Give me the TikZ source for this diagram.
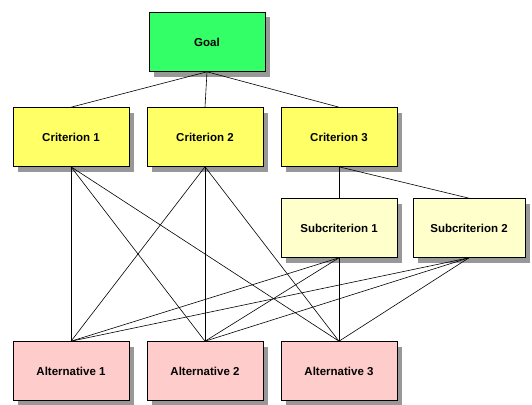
\documentclass[tikz,border=0pt]{standalone}
\usepackage{fontspec}
\setmainfont{Liberation Sans}
\definecolor{goalc}{HTML}{33FF66}
\definecolor{critc}{HTML}{FFFF66}
\definecolor{subc}{HTML}{FFFFCC}
\definecolor{altc}{HTML}{FFCCCC}
\definecolor{shadc}{HTML}{989898}
\begin{document}
\begin{tikzpicture}[x=1pt,y=-1pt,
  boxs/.style={draw=black, line width=0.6pt, minimum width=116pt, minimum height=59pt,
    inner sep=0pt, font=\fontsize{11.5}{13}\selectfont\bfseries},
  goalbox/.style={boxs, fill=goalc},
  critbox/.style={boxs, fill=critc},
  subbox/.style={boxs, fill=subc},
  altbox/.style={boxs, fill=altc},
  shadowbox/.style={fill=shadc, draw=none},
  link/.style={draw=black, line width=0.6pt}]
\useasboundingbox (0,0) rectangle (532,404);
\foreach \cx/\cy/\hw in {207/42/58, 71/137/58, 205/137/58, 339/137/58, 339/228/58, 469/228/56, 71/371/58, 205/371/58, 339/371/58}
  \path[shadowbox] (\cx-\hw+5, \cy-29.5+5) rectangle (\cx+\hw+5, \cy+29.5+5);
\node[goalbox] (goal) at (207,42) {Goal};
\node[critbox] (c1) at (71,137) {Criterion 1};
\node[critbox] (c2) at (205,137) {Criterion 2};
\node[critbox] (c3) at (339,137) {Criterion 3};
\node[subbox] (s1) at (339,228) {Subcriterion 1};
\node[subbox, minimum width=112pt] (s2) at (469,228) {Subcriterion 2};
\node[altbox] (a1) at (71,371) {Alternative 1};
\node[altbox] (a2) at (205,371) {Alternative 2};
\node[altbox] (a3) at (339,371) {Alternative 3};
\foreach \c in {c1,c2,c3} \draw[link] (goal.south) -- (\c.north);
\foreach \s in {s1,s2} \draw[link] (c3.south) -- (\s.north);
\foreach \p in {c1,c2,s1,s2} \foreach \a in {a1,a2,a3} \draw[link] (\p.south) -- (\a.north);
\end{tikzpicture}
\end{document}
